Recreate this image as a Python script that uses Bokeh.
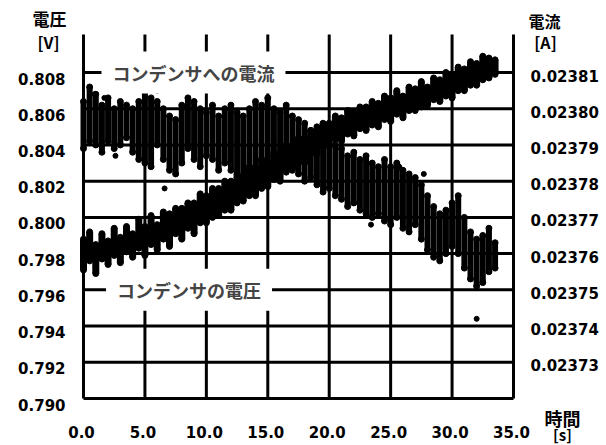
from bokeh.plotting import figure
from bokeh.models import Range1d, Label
from bokeh.core.properties import value
from bokeh.embed import file_html
from bokeh.resources import INLINE

# ---- data ----
time_s = [0.0, 0.5, 1.0, 1.5, 2.0, 2.5, 3.0, 3.5, 4.0, 4.5,
          5.0, 5.5, 6.0, 6.5, 7.0, 7.5, 8.0, 8.5, 9.0, 9.5,
          10.0, 10.5, 11.0, 11.5, 12.0, 12.5, 13.0, 13.5, 14.0, 14.5,
          15.0, 15.5, 16.0, 16.5, 17.0, 17.5, 18.0, 18.5, 19.0, 19.5,
          20.0, 20.5, 21.0, 21.5, 22.0, 22.5, 23.0, 23.5, 24.0, 24.5,
          25.0, 25.5, 26.0, 26.5, 27.0, 27.5, 28.0, 28.5, 29.0, 29.5,
          30.0, 30.5, 31.0, 31.5, 32.0, 32.5, 33.0, 33.5]

volt_lo = [0.7971, 0.7976, 0.7969, 0.7977, 0.7974, 0.7979, 0.7975, 0.7981, 0.7978, 0.7983,
           0.7979, 0.7985, 0.7982, 0.7988, 0.7984, 0.7991, 0.7988, 0.7994, 0.7991, 0.7997,
           0.7997, 0.8000, 0.8001, 0.8004, 0.8004, 0.8008, 0.8009, 0.8012, 0.8012, 0.8016,
           0.8017, 0.8021, 0.8020, 0.8025, 0.8026, 0.8030, 0.8030, 0.8035, 0.8035, 0.8039,
           0.8039, 0.8043, 0.8042, 0.8046, 0.8045, 0.8049, 0.8048, 0.8051, 0.8050, 0.8054,
           0.8053, 0.8057, 0.8055, 0.8059, 0.8059, 0.8061, 0.8062, 0.8065, 0.8064, 0.8067,
           0.8066, 0.8070, 0.8070, 0.8073, 0.8073, 0.8076, 0.8077, 0.8079]
volt_hi = [0.7988, 0.7992, 0.7985, 0.7991, 0.7987, 0.7994, 0.7989, 0.7995, 0.7991, 0.7999,
           0.7995, 0.8001, 0.7996, 0.8003, 0.8002, 0.8005, 0.8005, 0.8008, 0.8008, 0.8013,
           0.8012, 0.8016, 0.8016, 0.8020, 0.8020, 0.8024, 0.8023, 0.8028, 0.8027, 0.8032,
           0.8031, 0.8036, 0.8035, 0.8040, 0.8040, 0.8044, 0.8044, 0.8048, 0.8048, 0.8052,
           0.8052, 0.8056, 0.8055, 0.8059, 0.8058, 0.8061, 0.8061, 0.8064, 0.8063, 0.8067,
           0.8066, 0.8070, 0.8067, 0.8072, 0.8071, 0.8075, 0.8072, 0.8077, 0.8076, 0.8080,
           0.8079, 0.8083, 0.8082, 0.8086, 0.8085, 0.8089, 0.8088, 0.8087]

cur_lo = [0.023789, 0.023791, 0.023790, 0.023788, 0.023791, 0.023789, 0.023790, 0.023792, 0.023788, 0.023786,
          0.023785, 0.023784, 0.023790, 0.023786, 0.023783, 0.023782, 0.023785, 0.023789, 0.023786, 0.023784,
          0.023787, 0.023786, 0.023783, 0.023785, 0.023783, 0.023781, 0.023779, 0.023782, 0.023784, 0.023786,
          0.023785, 0.023787, 0.023783, 0.023786, 0.023784, 0.023782, 0.023780, 0.023781, 0.023779, 0.023777,
          0.023778, 0.023776, 0.023775, 0.023773, 0.023774, 0.023772, 0.023771, 0.023770, 0.023771, 0.023769,
          0.023768, 0.023770, 0.023767, 0.023766, 0.023768, 0.023764, 0.023761, 0.023759, 0.023758, 0.023760,
          0.023762, 0.023760, 0.023756, 0.023753, 0.023751, 0.023752, 0.023755, 0.023756]
cur_hi = [0.023802, 0.023806, 0.023804, 0.023801, 0.023803, 0.023800, 0.023802, 0.023801, 0.023800, 0.023802,
          0.023805, 0.023803, 0.023802, 0.023800, 0.023798, 0.023797, 0.023801, 0.023803, 0.023802, 0.023800,
          0.023799, 0.023801, 0.023798, 0.023800, 0.023801, 0.023799, 0.023798, 0.023800, 0.023802, 0.023801,
          0.023803, 0.023800, 0.023799, 0.023801, 0.023798, 0.023797, 0.023796, 0.023794, 0.023795, 0.023793,
          0.023792, 0.023790, 0.023789, 0.023787, 0.023788, 0.023786, 0.023787, 0.023785, 0.023784, 0.023786,
          0.023784, 0.023785, 0.023783, 0.023782, 0.023781, 0.023779, 0.023776, 0.023773, 0.023771, 0.023772,
          0.023774, 0.023776, 0.023770, 0.023766, 0.023764, 0.023765, 0.023767, 0.023763]

cur_out_t = [0.9, 1.7, 6.0, 2.6, 6.6, 23.4, 32.0, 32.5, 27.7, 25.7]
cur_out_a = [0.023804, 0.023803, 0.023805, 0.023787, 0.023778, 0.023768, 0.023742, 0.023765, 0.023782, 0.023784]

x_ticks = [0, 5, 10, 15, 20, 25, 30, 35]
v_ticks = [0.790, 0.792, 0.794, 0.796, 0.798, 0.800, 0.802, 0.804, 0.806, 0.808]
a_ticks = [0.02373, 0.02374, 0.02375, 0.02376, 0.02377, 0.02378, 0.02379, 0.02380, 0.02381]

# ---- layout (pixels) and scales ----
W, H = 606, 445
FL, FR, FT, FB = 83, 513, 34, 398          # plot area edges on the canvas
X0, X1 = 0.0, 35.0
V0, V1 = 0.790, 0.8101
A0 = 0.02372
K = 0.00001 / 0.002                        # amps per volt between the two scales

sx = (FR - FL) / (X1 - X0)
sy = (FB - FT) / (V1 - V0)
xr = Range1d(X0 - FL / sx, X1 + (W - FR) / sx)
yr = Range1d(V0 - (H - FB) / sy, V1 + FT / sy)

JP = "Noto Sans CJK JP"
NUM = "DejaVu Sans"

p = figure(output_backend="svg", toolbar_location=None, width=W, height=H,
           min_border=0, x_range=xr, y_range=yr,
           x_axis_location=None, y_axis_location=None)
p.extra_y_ranges = {"amp": Range1d(A0 + (yr.start - V0) * K, A0 + (yr.end - V0) * K)}
p.xgrid.grid_line_color = None
p.ygrid.grid_line_color = None
p.outline_line_color = None
p.background_fill_color = "white"
p.border_fill_color = "white"

# frame lines and grid (left, right, bottom axes are the outer grid lines)
p.segment(x0=x_ticks, y0=[V0] * len(x_ticks), x1=x_ticks, y1=[V1] * len(x_ticks),
          line_color="black", line_width=3)
p.segment(x0=[X0] * len(v_ticks), y0=v_ticks, x1=[X1] * len(v_ticks), y1=v_ticks,
          line_color="black", line_width=3)

# tick labels
num_style = dict(text_font=value(NUM), text_font_size=value("15px"),
                 text_font_style="bold", text_color="black", text_baseline="middle")
p.text(x=[X0 - 18 / sx] * len(v_ticks), y=[v - 6 / sy for v in v_ticks],
       text=[f"{v:.3f}" for v in v_ticks], text_align="right", **num_style)
p.text(x=[X1 + 17 / sx] * len(a_ticks), y=[a - 3 / sy * K for a in a_ticks],
       text=[f"{a:.5f}" for a in a_ticks], text_align="left", y_range_name="amp", **num_style)
p.text(x=[t - 2 / sx for t in x_ticks], y=[V0 - 33 / sy] * len(x_ticks),
       text=[f"{t:.1f}" for t in x_ticks], text_align="center", **num_style)

# data: voltage (left scale)
p.segment(x0=time_s, y0=volt_lo, x1=time_s, y1=volt_hi, line_color="black", line_width=7)
p.scatter(x=time_s, y=volt_lo, size=6, color="black")
p.scatter(x=time_s, y=volt_hi, size=6, color="black")

# data: current (right scale)
p.segment(x0=time_s, y0=cur_lo, x1=time_s, y1=cur_hi, line_color="black", line_width=6,
          y_range_name="amp")
p.scatter(x=time_s, y=cur_lo, size=6, color="black", y_range_name="amp")
p.scatter(x=time_s, y=cur_hi, size=6, color="black", y_range_name="amp")
p.scatter(x=cur_out_t, y=cur_out_a, size=5, color="black", y_range_name="amp")

# series labels on gridlines
lab_pad = dict(left=11, right=11, top=8, bottom=8)
p.add_layout(Label(x=8.95, y=0.808, text="コンデンサへの電流", text_font=JP,
                   text_font_size="18px", text_font_style="bold",
                   text_align="center", text_baseline="middle",
                   background_fill_color="white", padding=lab_pad))
p.add_layout(Label(x=8.59, y=0.796, text="コンデンサの電圧", text_font=JP,
                   text_font_size="18px", text_font_style="bold",
                   text_align="center", text_baseline="middle",
                   background_fill_color="white", padding=lab_pad))

# axis titles (canvas positions)
def title(x, y, txt, size):
    p.add_layout(Label(x=x, y=y, x_units="canvas", y_units="canvas", text=txt,
                       text_font=JP, text_font_size=size, text_font_style="bold",
                       text_color="black", text_align="center", text_baseline="middle"))

title(49, 18, "電圧", "17px")
title(48, 41, "[V]", "16px")
title(544, 20, "電流", "16px")
title(545, 41, "[A]", "16px")
title(562, 417, "時間", "18px")
title(562, 434, "[s]", "15px")

open("out.html", "w").write(file_html(p, INLINE))
